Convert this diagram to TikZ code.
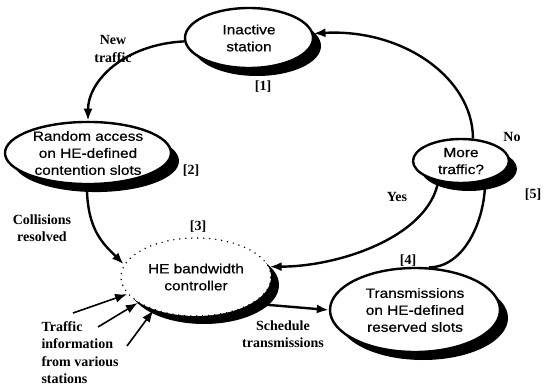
\documentclass[tikz,border=0pt]{standalone}
\usepackage{fontspec}
\setmainfont{Liberation Serif}
\newfontfamily\boxfont{Liberation Sans}[FakeStretch=1.14,FakeBold=0.6]
\usetikzlibrary{shapes.geometric,arrows.meta,shadows}

\begin{document}
\begin{tikzpicture}[x=1pt,y=-1pt,
        state/.style={ellipse,draw,line width=2.4pt,fill=white,inner sep=0pt,
            font=\boxfont\fontsize{13.5}{17}\selectfont,align=center,
            drop shadow={shadow xshift=8pt,shadow yshift=-8pt,opacity=1,fill=black}},
        lbl/.style={font=\bfseries\fontsize{14}{17.5}\selectfont,align=center},
        flow/.style={line width=2.4pt,-{Latex[length=12pt,width=9pt]}},
        plain/.style={line width=2.4pt}]
    \useasboundingbox (0,0) rectangle (546,390);
    % States of the cycle
    \node[state,minimum width=128pt,minimum height=60pt] (inact) at (249,38) {Inactive\\station};
    \node[state,minimum width=166pt,minimum height=62pt] (rand) at (88,153) {Random access\\on HE-defined\\contention slots};
    \node[state,minimum width=96pt,minimum height=44pt] (more) at (461,161) {More\\traffic?};
    \node[state,minimum width=150pt,minimum height=78pt,
        draw=none] (ctrl) at (196,277) {HE bandwidth\\controller};
    \draw[line width=1.6pt,line cap=round,dash pattern=on 0pt off 6pt]
        (ctrl.center) ellipse (75pt and 39pt);                      % Dotted border of controller
    \node[state,minimum width=170pt,minimum height=84pt] (trans) at (415,310) {Transmissions\\on HE-defined\\reserved slots};
    % Labels
    \node[lbl] (newt) at (113,49) {New\\traffic};
    \node[lbl] (n1) at (263,87) {[1]};
    \node[lbl] (n2) at (191,171) {[2]};
    \node[lbl] (no) at (512,137) {No};
    \node[lbl] (yes) at (397,197) {Yes};
    \node[lbl] (n5) at (533,195) {[5]};
    \node[lbl] (coll) at (42,228) {Collisions\\resolved};
    \node[lbl] (n3) at (198,227) {[3]};
    \node[lbl] (n4) at (408,261) {[4]};
    \node[lbl] (sched) at (283,334) {Schedule\\transmissions};
    \node[lbl,align=left,anchor=north west] (info) at (38,318) {Traffic\\information\\from various\\stations};
    % Transitions
    \draw[flow] (inact.183) .. controls +(-60,3) and +(0,-40) .. (rand.north);     % New traffic
    \draw[flow] (more.62) .. controls +(0,-60) and +(90,-5) .. (inact.4);          % No
    \draw[flow] (rand.268) .. controls +(0,45) and +(-20,-20) .. (ctrl.170);       % Collisions resolved
    \draw[flow] (more.222) .. controls +(-10,55) and +(70,0) .. (ctrl.8);          % Yes
    \draw[flow] (ctrl.-25) -- (trans.west);                                        % Schedule
    \draw[plain] (trans.72) .. controls +(35,0) and +(0,40) .. (more.-40);
    % Traffic information arrows
    \coordinate (t1) at (73,313);
    \coordinate (t2) at (98,327);
    \coordinate (t3) at (127,346);
    \draw[flow,line width=1.6pt] (t1) -- (ctrl.194);
    \draw[flow,line width=1.6pt] (t2) -- (ctrl.204);
    \draw[flow,line width=1.6pt] (t3) -- (ctrl.218);
\end{tikzpicture}
\end{document}
